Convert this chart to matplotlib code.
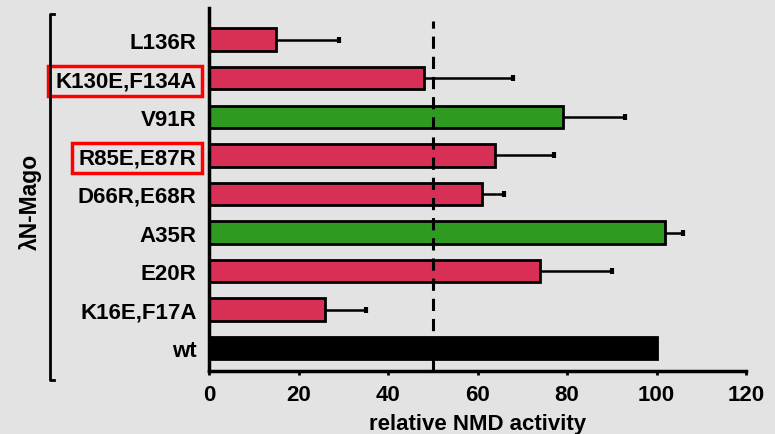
import matplotlib
matplotlib.use("Agg")
import matplotlib.pyplot as plt
from matplotlib.patches import Rectangle
from matplotlib.lines import Line2D

plt.rcParams['font.family'] = ['Liberation Sans', 'DejaVu Sans']
plt.rcParams['font.weight'] = 'bold'

# Mutants listed bottom to top
mutants = ["wt", "K16E,F17A", "E20R", "A35R", "D66R,E68R",
           "R85E,E87R", "V91R", "K130E,F134A", "L136R"]
activity = [100, 26, 74, 102, 61, 64, 79, 48, 15]
err_upper = [0, 9, 16, 4, 5, 13, 14, 20, 14]
group = ["wt", "mut", "mut", "neutral", "mut", "mut", "neutral", "mut", "mut"]
boxed = ["K130E,F134A", "R85E,E87R"]
xticks = [0, 20, 40, 60, 80, 100, 120]
threshold = 50

bg = "#e3e3e3"
palette = {"wt": "#000000", "mut": "#d72f55", "neutral": "#2f9a22"}

fig = plt.figure(figsize=(7.75, 4.35), dpi=100, facecolor=bg)
ax = fig.add_axes([0.2697, 0.1448, 0.6929, 0.8345])
ax.set_facecolor(bg)

ypos = list(range(len(mutants)))
colors = [palette[g] for g in group]
ax.barh(ypos, activity, height=0.58, color=colors, edgecolor="black",
        linewidth=2.0, zorder=2)

# One-sided error whiskers with a cap only at the outer end
for y, v, e in zip(ypos, activity, err_upper):
    if e > 0:
        ax.hlines(y, v, v + e, color="black", linewidth=1.8, zorder=3)
        ax.plot([v + e], [y], marker="|", markersize=5, markeredgewidth=3,
                color="black", zorder=3)

ax.axvline(threshold, ymin=0, ymax=0.965, color="black", linewidth=2.2,
           dashes=(4, 2.6), zorder=4)

ax.set_xlim(0, 120)
ax.set_ylim(-0.59, 8.82)
ax.set_xticks(xticks)
ax.set_xticklabels([str(t) for t in xticks], fontsize=16, fontweight="bold")
ax.set_yticks(ypos)
ax.set_yticklabels(mutants, fontsize=16, fontweight="bold")
ax.tick_params(axis="y", length=0, pad=9)
ax.tick_params(axis="x", length=3, width=2, direction="out", pad=6)
ax.set_xlabel("relative NMD activity", fontsize=16, fontweight="bold", labelpad=6)

for s in ["top", "right"]:
    ax.spines[s].set_visible(False)
for s in ["left", "bottom"]:
    ax.spines[s].set_linewidth(2.5)

# Red boxes around highlighted mutant labels
fig.canvas.draw()
renderer = fig.canvas.get_renderer()
inv = fig.transFigure.inverted()
for lbl in ax.get_yticklabels():
    if lbl.get_text() in boxed:
        bb = lbl.get_window_extent(renderer)
        x0, y0 = inv.transform((bb.x0 - 7, bb.y0 - 5))
        x1, y1 = inv.transform((bb.x1 + 5, bb.y1 + 4))
        fig.patches.append(Rectangle((x0, y0), x1 - x0, y1 - y0,
                                     transform=fig.transFigure, fill=False,
                                     edgecolor="#ff0000", linewidth=2.5))

# Bracket grouping the lambdaN-Mago constructs
bx = 50 / 775
btop = 1 - 15 / 435
bbot = 1 - 381 / 435
tick = 4 / 775
fig.lines.append(Line2D([bx + tick, bx, bx, bx + tick], [btop, btop, bbot, bbot],
                        transform=fig.transFigure, color="black", linewidth=2.0))
fig.text(30 / 775, 1 - 202 / 435, "λN-Mago", rotation=90, ha="center",
         va="center", fontsize=16.5, fontweight="bold")

fig.savefig("out.png", dpi=100, facecolor=bg)
